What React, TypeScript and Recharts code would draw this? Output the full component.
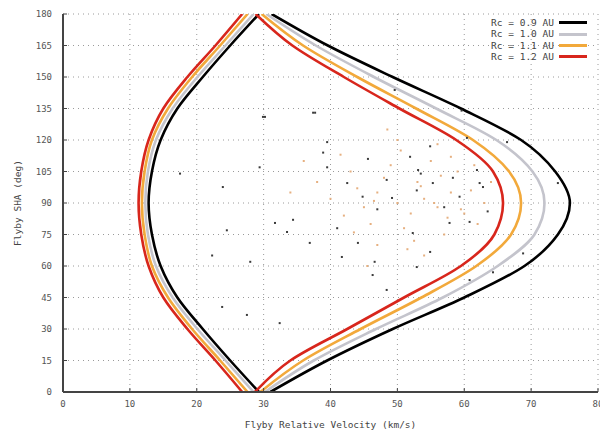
import React from "react";
import {
  ComposedChart,
  Line,
  Scatter,
  XAxis,
  YAxis,
  CartesianGrid,
} from "recharts";

// Flyby SHA angles (deg) at which the curve velocities were read
const angles = [0, 15, 30, 45, 60, 75, 90, 105, 120, 135, 150, 165, 180];

// Left (low-velocity) branches, km/s
const left09 = [29.3, 25.0, 20.9, 17.1, 14.6, 13.3, 12.8, 13.3, 14.6, 17.1, 20.9, 25.0, 29.3];
const left10 = [28.5, 24.3, 20.1, 16.4, 13.9, 12.7, 12.3, 12.7, 13.9, 16.4, 20.1, 24.3, 28.5];
const left11 = [27.6, 23.5, 19.3, 15.7, 13.3, 12.2, 11.8, 12.2, 13.3, 15.7, 19.3, 23.5, 27.6];
const left12 = [26.8, 22.8, 18.6, 15.0, 12.8, 11.7, 11.3, 11.7, 12.8, 15.0, 18.6, 22.8, 26.8];

// Right (high-velocity) branches, km/s
const right09 = [31.0, 39.5, 49.3, 60.0, 69.0, 74.0, 75.8, 73.6, 68.5, 59.5, 49.3, 39.6, 31.2];
const right10 = [30.2, 37.5, 46.8, 56.8, 65.0, 70.5, 72.0, 70.2, 64.8, 55.8, 46.5, 37.8, 30.4];
const right11 = [29.5, 35.9, 44.5, 53.6, 61.8, 67.0, 68.5, 66.7, 61.3, 52.8, 44.0, 35.9, 29.7];
const right12 = [28.7, 34.0, 42.5, 51.0, 59.5, 64.5, 65.8, 64.3, 58.8, 50.3, 42.0, 34.3, 28.8];

const seriesNames = ["Rc = 0.9 AU", "Rc = 1.0 AU", "Rc = 1.1 AU", "Rc = 1.2 AU"];
const seriesColors = ["#000000", "#c4c4cc", "#f2a93b", "#d8261c"];

// Observed flybys, dark specks (velocity km/s, angle deg)
const darkV = [29.9, 17.5, 23.9, 29.4, 22.3, 24.5, 27.5, 31.7, 23.8, 28.0, 32.4, 34.4, 33.5, 41.0, 44.1, 41.7, 46.6, 46.3, 52.9, 54.9, 60.8, 68.8, 64.3, 36.9, 52.3, 57.8, 60.8, 48.4, 37.7, 39.5, 38.9, 45.6, 51.9, 54.9, 48.4, 42.5, 44.8, 49.2, 53.1, 61.9, 62.8, 59.6, 66.4, 55.3, 58.3, 60.4, 62.3, 59.3, 52.9, 74.0, 49.6, 30.2, 37.4, 57.0, 63.5, 47.0, 53.5, 39.5];
const darkA = [131, 104, 97.6, 107, 65, 77, 36.7, 80.5, 40.5, 62, 32.8, 82, 76.2, 78, 71, 64.3, 62, 55.7, 59.5, 66.7, 53.3, 66, 57, 71, 75.7, 80.5, 81, 48.6, 133, 119, 114, 111, 112, 117, 101, 99.5, 93, 92.4, 105.7, 105.7, 97.6, 134, 119, 99.5, 102, 121, 99.5, 93, 96, 99.5, 143.8, 131, 133, 88, 86, 87, 104, 107];
// Observed flybys, light tan specks
const lightV = [45, 47, 50, 52, 54, 56, 58, 48, 43, 55, 60, 62, 57, 51, 46, 44, 53, 49, 59, 61, 63, 40, 42, 56, 50, 38, 47, 54, 58, 64, 36, 34, 52.5, 57.5, 48.5, 45.5, 61.5, 55.5, 41.5, 50.5, 53.5, 46.5, 59.5, 43.5, 51.5, 56.5];
const lightA = [88, 95, 90, 85, 92, 88, 95, 102, 105, 110, 85, 80, 75, 78, 80, 97, 100, 108, 105, 96, 90, 92, 84, 118, 120, 100, 70, 65, 112, 100, 110, 95, 72, 83, 125, 60, 108, 90, 113, 115, 98, 91, 87, 76, 68, 103];

const xTicks = [0, 10, 20, 30, 40, 50, 60, 70, 80];
const yTicks = [0, 15, 30, 45, 60, 75, 90, 105, 120, 135, 150, 165, 180];

const toPts = (xs: number[]) => xs.map((v, i) => ({ v, a: angles[i] }));
const darkPts = darkV.map((v, i) => ({ v, a: darkA[i] }));
const lightPts = lightV.map((v, i) => ({ v, a: lightA[i] }));

const branches = [
  { key: "l09", data: toPts(left09), c: 0 },
  { key: "r09", data: toPts(right09), c: 0 },
  { key: "l10", data: toPts(left10), c: 1 },
  { key: "r10", data: toPts(right10), c: 1 },
  { key: "l11", data: toPts(left11), c: 2 },
  { key: "r11", data: toPts(right11), c: 2 },
  { key: "l12", data: toPts(left12), c: 3 },
  { key: "r12", data: toPts(right12), c: 3 },
];

const FONT = "'DejaVu Sans Mono', monospace";
const tickStyle = { fontSize: 9, fill: "#555", fontFamily: FONT };

const dot = (color: string) => (props: any) =>
  props.cx == null ? <g /> : <rect x={props.cx - 1} y={props.cy - 1} width={2} height={2} fill={color} />;

export default function App() {
  return (
    <div style={{ position: "relative", width: 600, height: 423 }}>
      <ComposedChart width={600} height={423} margin={{ top: 6, right: 10, bottom: 0, left: 0 }}>
        <CartesianGrid stroke="#9a9a9a" strokeDasharray="1 4" />
        <XAxis
          type="number"
          dataKey="v"
          domain={[0, 80]}
          ticks={xTicks}
          height={39}
          tickSize={-4}
          tickMargin={13}
          tick={tickStyle}
          axisLine={{ stroke: "#444", strokeWidth: 2 }}
          tickLine={{ stroke: "#444" }}
          allowDataOverflow
          label={{
            value: "Flyby Relative Velocity (km/s)",
            position: "insideBottom",
            offset: 3,
            style: { fontSize: 9.5, fill: "#444", fontFamily: FONT },
          }}
        />
        <XAxis
          xAxisId="top"
          orientation="top"
          type="number"
          dataKey="v"
          domain={[0, 80]}
          ticks={xTicks}
          height={0}
          tickSize={-4}
          tick={false}
          axisLine={{ stroke: "#444", strokeWidth: 2 }}
          tickLine={{ stroke: "#444" }}
        />
        <YAxis
          type="number"
          dataKey="a"
          domain={[0, 180]}
          ticks={yTicks}
          width={55}
          tickSize={-4}
          tickMargin={15}
          tick={tickStyle}
          axisLine={{ stroke: "#444", strokeWidth: 2 }}
          tickLine={{ stroke: "#444" }}
          allowDataOverflow
          label={{
            value: "Flyby SHA (deg)",
            angle: -90,
            position: "insideLeft",
            offset: 10,
            style: { fontSize: 9.5, fill: "#444", fontFamily: FONT, textAnchor: "middle" },
          }}
        />
        <YAxis
          yAxisId="right"
          orientation="right"
          type="number"
          dataKey="a"
          domain={[0, 180]}
          ticks={yTicks}
          width={0}
          tickSize={-4}
          tick={false}
          axisLine={{ stroke: "#444", strokeWidth: 2 }}
          tickLine={{ stroke: "#444" }}
        />
        <Scatter data={lightPts} dataKey="a" fill="#e3a778" shape={dot("#e6b080")} isAnimationActive={false} />
        <Scatter data={darkPts} dataKey="a" fill="#3a3a3a" shape={dot("#3a3a3a")} isAnimationActive={false} />
        {branches.map((b) => (
          <Line
            key={b.key}
            data={b.data}
            dataKey="a"
            type="monotoneY"
            stroke={seriesColors[b.c]}
            strokeWidth={2.6}
            dot={false}
            activeDot={false}
            isAnimationActive={false}
          />
        ))}
      </ComposedChart>
      <div
        style={{
          position: "absolute",
          top: 9,
          right: 21,
          fontFamily: FONT,
          fontSize: 9.5,
          color: "#444",
          lineHeight: "11.4px",
        }}
      >
        {seriesNames.map((n, i) => (
          <div key={n} style={{ display: "flex", alignItems: "center", justifyContent: "flex-end" }}>
            <span>{n}</span>
            <span
              style={{
                display: "inline-block",
                width: 28,
                height: 3,
                marginLeft: 5,
                background: seriesColors[i],
              }}
            />
          </div>
        ))}
      </div>
    </div>
  );
}
